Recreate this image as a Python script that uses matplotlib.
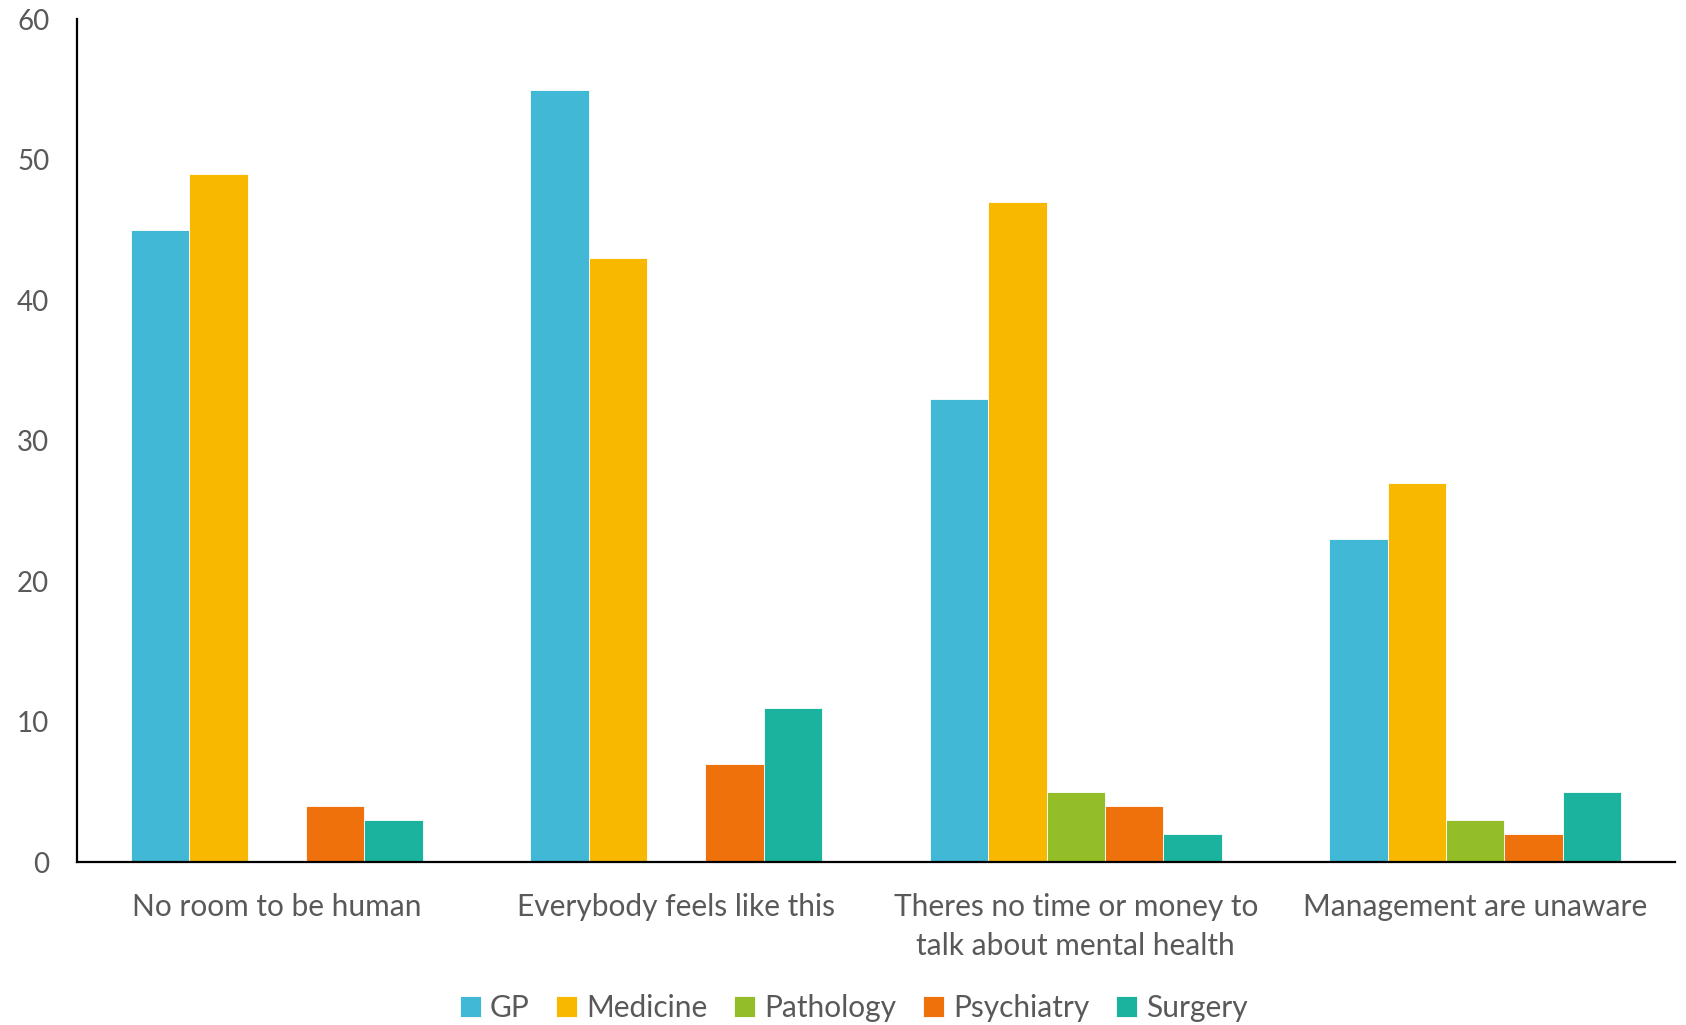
import matplotlib.pyplot as plt
import numpy as np

categories = ["No room to be human", "Everybody feels like this",
              "Theres no time or money to\ntalk about mental health", "Management are unaware"]
series = ["GP", "Medicine", "Pathology", "Psychiatry", "Surgery"]
gp = [45, 55, 33, 23]
medicine = [49, 43, 47, 27]
pathology = [0, 0, 5, 3]
psychiatry = [4, 7, 4, 2]
surgery = [3, 11, 2, 5]
colors = ["#41B8D5", "#F9B800", "#93BE27", "#EE710B", "#1BB39D"]

plt.rcParams["font.family"] = ["Lato", "DejaVu Sans"]

fig = plt.figure(figsize=(16.86, 10.25), dpi=100)
ax = fig.add_axes([0.0457, 0.159, 0.9478, 0.822])

x = np.arange(len(categories))
w = 0.146
for i, (name, vals) in enumerate(zip(series, [gp, medicine, pathology, psychiatry, surgery])):
    ax.bar(x + (i - 2) * w, vals, w, color=colors[i], label=name,
           edgecolor="white", linewidth=0.6)

ax.set_xlim(-0.5, len(categories) - 0.5)
ax.set_ylim(0, 60)
ax.set_yticks(range(0, 61, 10))
ax.set_xticks(x)
ax.set_xticklabels(categories, fontsize=21.5, color="#595959", linespacing=1.5)
ax.tick_params(axis="y", length=0, labelsize=20, labelcolor="#595959", pad=20)
ax.tick_params(axis="x", length=0, pad=22)
for s in ["top", "right"]:
    ax.spines[s].set_visible(False)
for s in ["left", "bottom"]:
    ax.spines[s].set_linewidth(1.6)
    ax.spines[s].set_color("black")

ax.legend(loc="upper center", bbox_to_anchor=(0.486, -0.125), ncol=5, frameon=False,
          fontsize=21.5, labelcolor="#595959", handlelength=0.7, handleheight=0.7,
          handletextpad=0.3, columnspacing=0.9)

fig.savefig("out.png", dpi=100)
